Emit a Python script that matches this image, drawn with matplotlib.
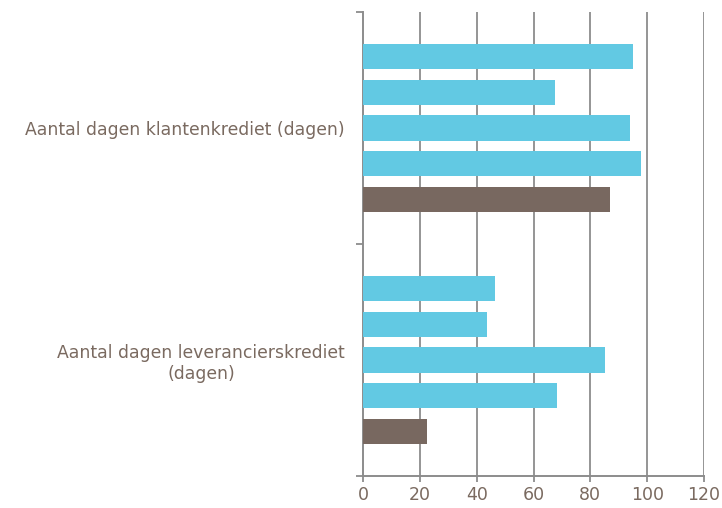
import numpy as np
import matplotlib.pyplot as plt

categories = ["Aantal dagen klantenkrediet (dagen)",
              "Aantal dagen leverancierskrediet\n(dagen)"]
# five series per category, top to bottom
series_values = [
    [94.9, 46.6],
    [67.4, 43.8],
    [94.0, 85.0],
    [98.0, 68.3],
    [87.0, 22.5],
]
series_colors = ["#62c9e3", "#62c9e3", "#62c9e3", "#62c9e3", "#786860"]
xticks = [0, 20, 40, 60, 80, 100, 120]

txt = "#7a6a60"
grid = "#8c8c8c"

fig = plt.figure(figsize=(7.22, 5.08), dpi=100)
ax = fig.add_axes([363 / 722, 1 - 476 / 508, (704 - 363) / 722, (476 - 12) / 508])

ypos = np.arange(len(categories))
step = 0.154
height = 0.11
n = len(series_values)
for i, (vals, col) in enumerate(zip(series_values, series_colors)):
    ax.barh(ypos + (i - (n - 1) / 2) * step, vals, height=height,
            color=col, zorder=3)

ax.set_xlim(0, 120)
ax.set_ylim(len(categories) - 0.5, -0.5)
ax.set_xticks(xticks)
ax.set_yticks(ypos)
ax.set_yticklabels(categories, ha="right", multialignment="center")
ax.set_yticks([-0.5, 0.5, 1.5], minor=True)

for x in xticks[1:]:
    ax.axvline(x, color=grid, lw=1.3, zorder=1)

for s in ["top", "right"]:
    ax.spines[s].set_visible(False)
for s in ["left", "bottom"]:
    ax.spines[s].set_color(grid)
    ax.spines[s].set_linewidth(1.4)

ax.tick_params(axis="y", which="major", length=0, pad=13, labelsize=12.4, labelcolor=txt)
ax.tick_params(axis="y", which="minor", length=5, width=1.3, color=grid)
ax.tick_params(axis="x", length=4, width=1.3, color=grid, labelsize=12.5,
               labelcolor=txt, pad=3)

plt.savefig("out.png")
